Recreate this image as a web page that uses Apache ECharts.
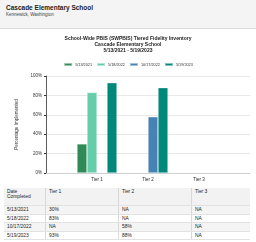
<!doctype html>
<html lang="en">
<head>
<meta charset="utf-8"/>
<title>Cascade Elementary School — TFI</title>
<style>
  body { margin: 0; width: 256px; height: 242px; overflow: hidden; background: #fff;
         font-family: "Liberation Sans", Arial, sans-serif; color: #222; position: relative; }
  .head { position: absolute; left: 0; top: 0; width: 256px; height: 28px;
          background: #f4f4f4; border-bottom: 1px solid #dcdcdc; }
  .head .name { position: absolute; left: 6px; top: 4px; font-size: 6.5px; font-weight: bold; }
  .head .loc { position: absolute; left: 6px; top: 12px; font-size: 4.5px; color: #444; }
  #chart { position: absolute; left: 0; top: 29px; width: 256px; height: 159px; }
  table { position: absolute; left: 4px; top: 188px; width: 246px; border-collapse: collapse;
          font-size: 4.9px; table-layout: fixed; }
  td, th { border-right: 1px solid #d8d8d8; border-bottom: 1px solid #e2e2e2;
           text-align: left; padding: 0 0 0 3px; height: 7.5px; font-weight: normal; }
  td:last-child, th:last-child { border-right: none; }
  th { background: #f2f2f2; height: 16px; vertical-align: top; padding-top: 1px; line-height: 5.2px; }
  tr:nth-child(even) td { background: #f4f4f4; }
</style>
</head>
<body>
<div class="head">
  <div class="name">Cascade Elementary School</div>
  <div class="loc">Kennewick, Washington</div>
</div>
<div id="chart"></div>
<table id="tbl"></table>
<script src="https://cdn.jsdelivr.net/npm/echarts@6/dist/echarts.min.js"></script>
<script>
  // data
  const tiers = ["Tier 1", "Tier 2", "Tier 3"];
  const dates = ["5/13/2021", "5/18/2022", "10/17/2022", "5/19/2023"];
  const colors = ["#2e8b57", "#66cdaa", "#4682b4", "#00897b"];
  const tier1 = [30, 83, null, 93];
  const tier2 = [null, null, 58, 88];
  const tier3 = [null, null, null, null];

  const byTier = [tier1, tier2, tier3];
  const series = dates.map((d, i) => ({
    name: d,
    type: "bar",
    barWidth: 10,
    barGap: "0%",
    itemStyle: { color: colors[i], borderColor: "rgba(255,255,255,0.5)", borderWidth: 0.6 },
    data: byTier.map((t, j) => [j + 1, t[i]]).filter(p => p[1] != null),
  }));

  const chart = echarts.init(document.getElementById("chart"), null, { renderer: "canvas" });
  chart.setOption({
    animation: false,
    textStyle: { fontFamily: "Liberation Sans, Arial, sans-serif" },
    title: {
      text: "School-Wide PBIS (SWPBIS) Tiered Fidelity Inventory\nCascade Elementary School\n5/13/2021 - 5/19/2023",
      left: "center", top: 2,
      textStyle: { fontSize: 5, fontWeight: "bold", lineHeight: 6, color: "#222" },
    },
    legend: {
      top: 28, left: "center", itemWidth: 8, itemHeight: 3, itemGap: 4,
      icon: "rect", textStyle: { fontSize: 3.8, color: "#333", padding: [0, 0, 0, -2] },
    },
    grid: { left: 46, right: 6, top: 47, bottom: 15 },
    xAxis: {
      type: "value", min: 0, max: 4, interval: 1,
      axisLine: { lineStyle: { color: "#cfcfcf" } },
      axisTick: { show: false },
      splitLine: { show: false },
      axisLabel: { fontSize: 4.5, color: "#222", margin: 4,
                   formatter: v => tiers[v - 1] || "" },
    },
    yAxis: {
      type: "value", min: 0, max: 100, interval: 20,
      name: "Percentage Implemented", nameLocation: "middle", nameGap: 22,
      nameTextStyle: { fontSize: 4.5, color: "#333" },
      axisLine: { show: true, lineStyle: { color: "#333", width: 0.8 } },
      axisTick: { show: true, length: 2, lineStyle: { color: "#333" } },
      splitLine: { lineStyle: { color: "#e8e8e8" } },
      axisLabel: { fontSize: 4.5, color: "#333", margin: 4, formatter: "{value}%" },
    },
    series,
  });

  // table under the chart
  const widths = [41, 73, 73, 59];
  const fmt = v => (v == null ? "NA" : v + "%");
  let html = "<tr><th style='width:" + (widths[0] - 3) + "px'>Date<br>Completed</th>" +
    tiers.map((t, j) => "<th style='width:" + (widths[j + 1] - 4) + "px'>" + t + "</th>").join("") + "</tr>";
  dates.forEach((d, i) => {
    html += "<tr><td>" + d + "</td>" + byTier.map(t => "<td>" + fmt(t[i]) + "</td>").join("") + "</tr>";
  });
  document.getElementById("tbl").innerHTML = html;
</script>
</body>
</html>
